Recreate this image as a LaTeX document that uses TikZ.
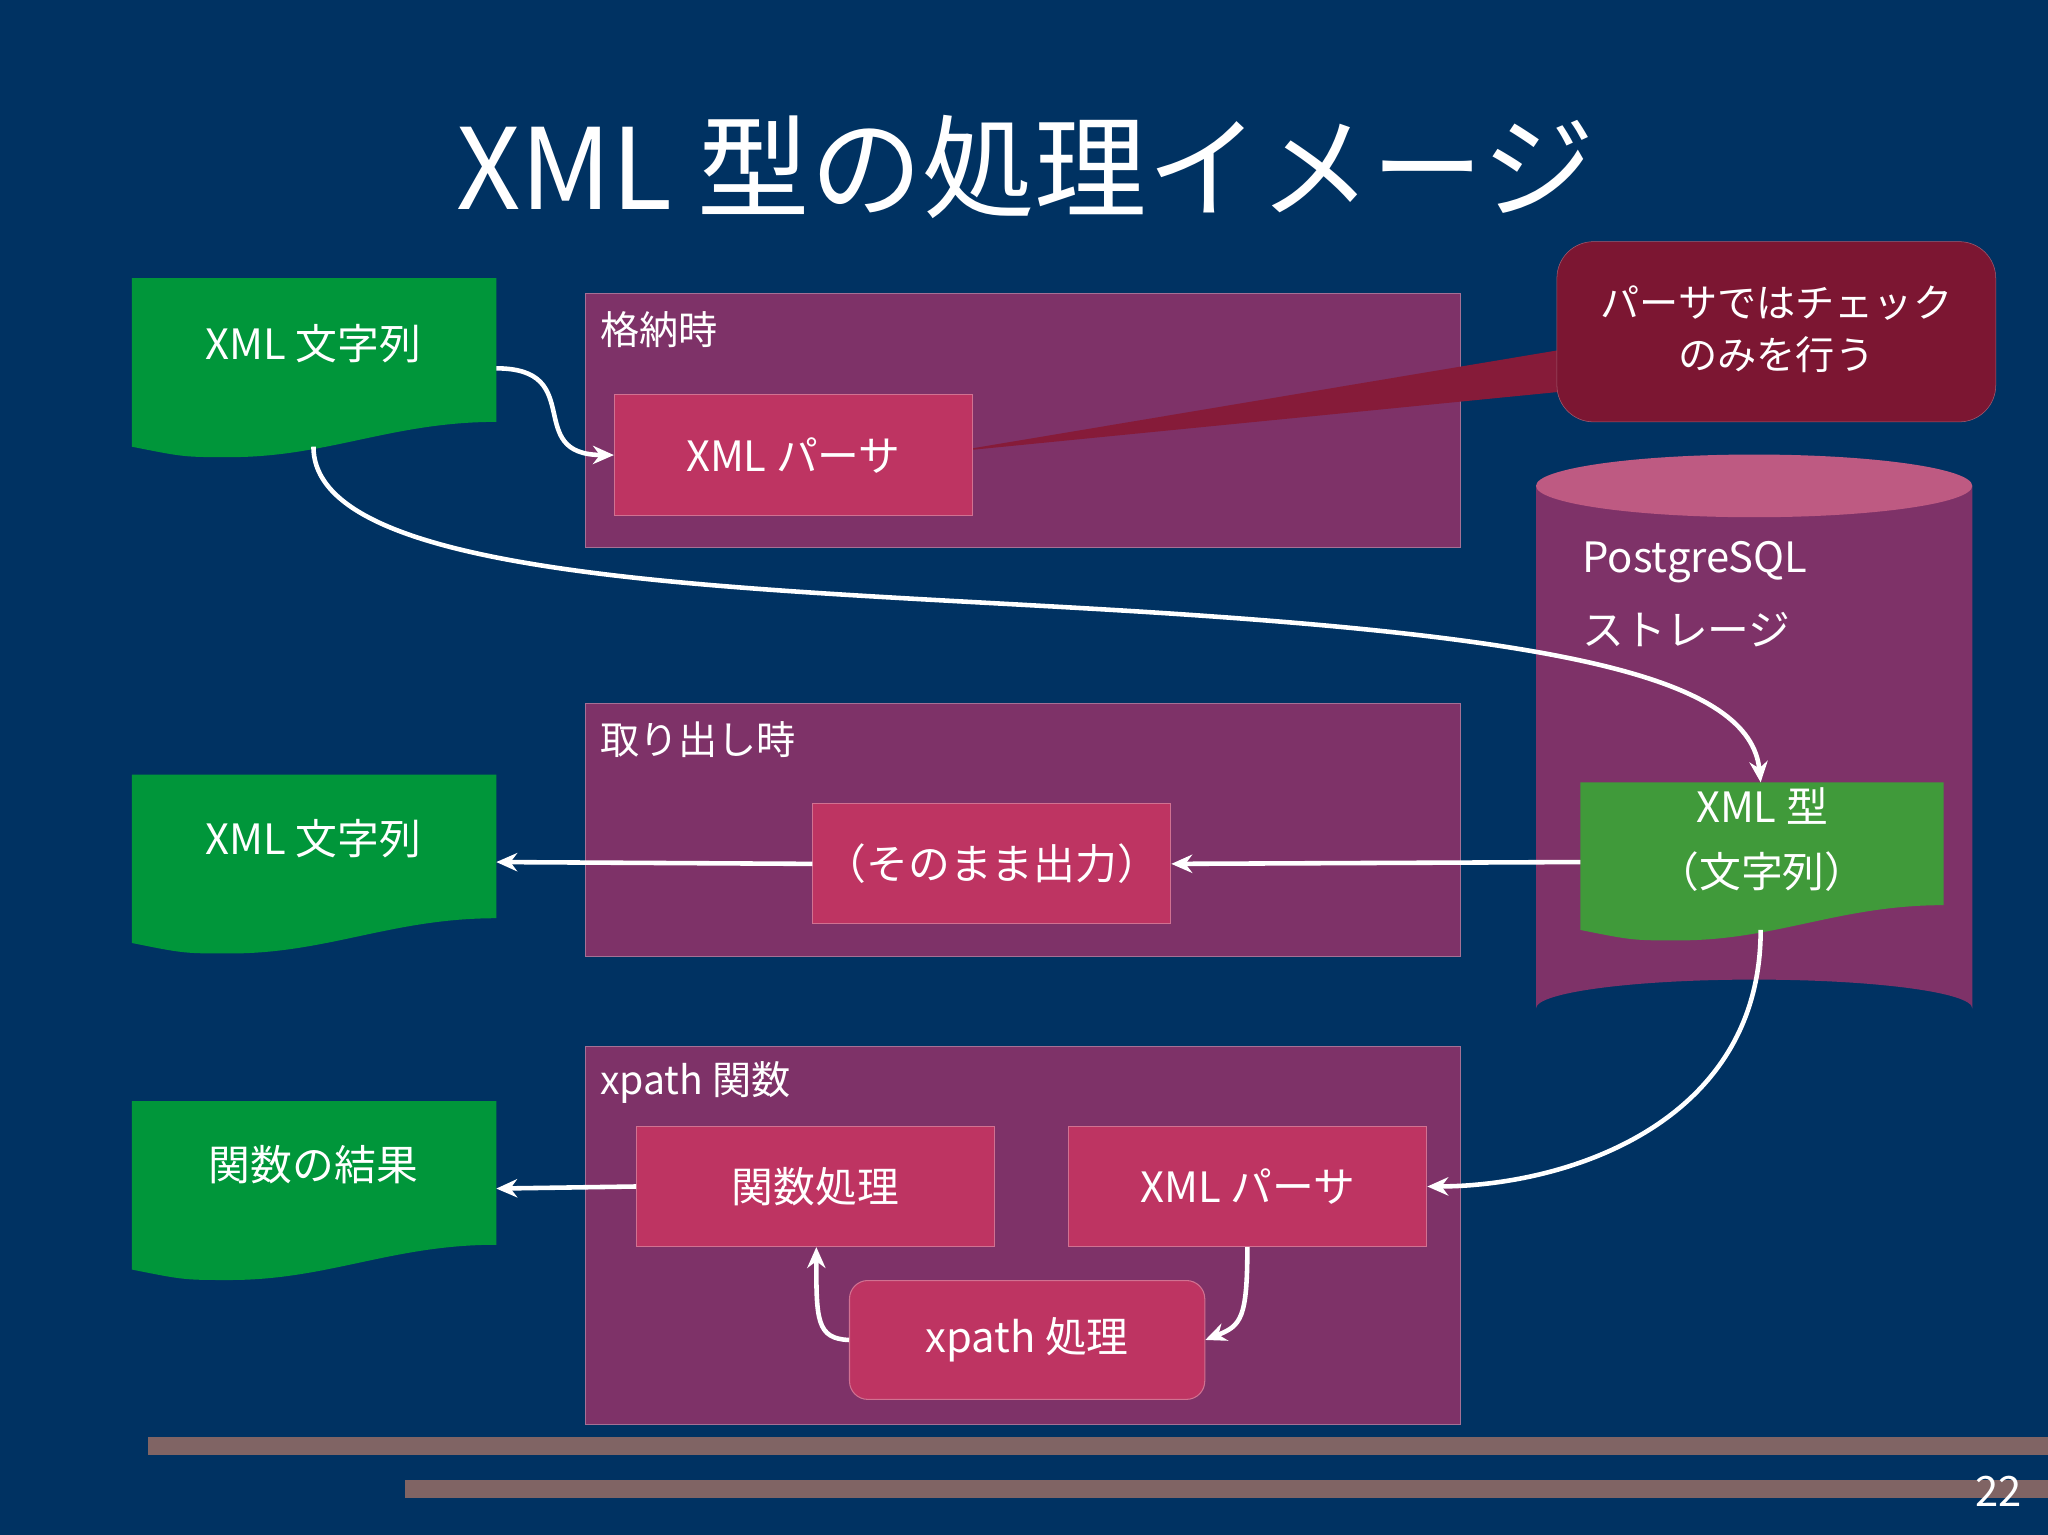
\documentclass[tikz,border=0pt]{standalone}
\usepackage{fontspec}
\setmainfont{Noto Sans CJK JP}
\usetikzlibrary{arrows.meta,positioning}
\definecolor{bg}{RGB}{0,50,98}
\definecolor{boxc}{RGB}{126,50,104}
\definecolor{pinkc}{RGB}{190,52,98}
\definecolor{greenc}{RGB}{0,150,58}
\definecolor{green2}{RGB}{64,154,58}
\definecolor{callc}{RGB}{124,22,50}
\definecolor{cyltop}{RGB}{190,90,130}
\definecolor{barc}{RGB}{128,100,100}
\newcommand\docshape[5]{%
  \fill[#5] (#1,#2) -- (#3,#2) -- (#3,#4-27) .. controls ({#3-80},#4-27) and ({#1+150},#4) .. ({#1+75},#4) .. controls ({#1+40},#4) .. (#1,#4-8) -- cycle;}
\begin{document}
\begin{tikzpicture}[x=1pt,y=-1pt,
  arr/.style={draw=white,line width=3.5pt,-{Stealth[length=16pt,width=14pt]}},
  box/.style={fill=boxc,draw=boxc!70!white,line width=0.6pt,anchor=north west,inner sep=0},
  pn/.style={fill=pinkc,draw=pinkc!70!white,line width=0.8pt,text=white,font=\fontsize{32}{36}\selectfont,inner sep=0,minimum width=274pt,minimum height=92pt},
  lab/.style={text=white,font=\fontsize{30}{34}\selectfont,anchor=west},
  dt/.style={text=white,font=\fontsize{32}{36}\selectfont}]
\useasboundingbox (0,0) rectangle (1568,1175);
\fill[bg] (0,0) rectangle (1568,1175);
\node[text=white,font=\fontsize{86}{96}\selectfont] (title) at (785,128) {XML 型の処理イメージ};
% boxes
\node[box,minimum width=670pt,minimum height=195pt] (b1) at (448,224) {};
\node[lab] (l1) at (456,252) {格納時};
\node[box,minimum width=670pt,minimum height=194pt] (b2) at (448,538) {};
\node[lab] (l2) at (456,566) {取り出し時};
\node[box,minimum width=670pt,minimum height=289pt] (b3) at (448,801) {};
\node[lab] (l3) at (456,829) {xpath 関数};
% cylinder
\fill[boxc] (1176,372) -- (1176,772) arc[start angle=180,end angle=360,x radius=167,y radius=22] -- (1510,372) -- cycle;
\fill[cyltop] (1343,372) ellipse[x radius=167,y radius=24];
\node[lab,font=\fontsize{32}{36}\selectfont] (pg1) at (1208,430) {PostgreSQL};
\node[lab,font=\fontsize{32}{36}\selectfont] (pg2) at (1208,482) {ストレージ};
% callout
\fill[callc!85!pinkc] (728,346) -- (1194,268) -- (1194,300) -- cycle;
\fill[callc,draw=callc!70!white,rounded corners=28pt] (1192,185) rectangle (1528,323);
\node[text=white,font=\fontsize{30}{40}\selectfont,align=center] (call) at (1360,252) {パーサではチェック\\のみを行う};
% docs
\docshape{101}{213}{380}{350}{greenc}
\node[dt] (d1t) at (240,263) {XML 文字列};
\coordinate (d1r) at (380,282); \coordinate (d1b) at (240,342);
\docshape{101}{593}{380}{730}{greenc}
\node[dt] (d2t) at (240,642) {XML 文字列};
\coordinate (d2r) at (380,660);
\docshape{101}{843}{380}{980}{greenc}
\node[dt] (d3t) at (240,892) {関数の結果};
\coordinate (d3r) at (380,910);
\docshape{1210}{599}{1488}{720}{green2}
\node[dt,align=center,font=\fontsize{32}{50}\selectfont] (xt) at (1349,643) {XML 型\\（文字列）};
\coordinate (xl) at (1210,660); \coordinate (xtop) at (1348,599); \coordinate (xb) at (1348,712);
% pink nodes
\node[pn,anchor=north west] (p1) at (470,302) {XML パーサ};
\node[pn,anchor=north west] (p2) at (622,615) {（そのまま出力）};
\node[pn,anchor=north west] (p3) at (487,862) {関数処理};
\node[pn,anchor=north west] (p4) at (818,862) {XML パーサ};
\node[pn,anchor=north west,rounded corners=14pt,minimum width=272pt,minimum height=91pt] (p5) at (650,980) {xpath 処理};
% arrows
\draw[arr] (d1r) .. controls (450,282) and (400,348) .. (p1.west);
\draw[arr] (d1b) .. controls (240,450) and (600,450) .. (900,470) .. controls (1200,490) and (1340,520) .. (xtop);
\draw[arr] (xl) -- (p2.east);
\draw[arr] (p2.west) -- (d2r);
\draw[arr] (xb) .. controls (1348,860) and (1200,908) .. (p4.east);
\draw[arr] (p3.west) -- (d3r);
\draw[arr] (p4.south -| 955,0) .. controls (955,1010) and (950,1015) .. (p5.east);
\draw[arr] (p5.west) .. controls (625,1025) and (625,1010) .. (p3.south -| 625,0);
% bars
\fill[barc] (113,1100) rectangle (1568,1114);
\fill[barc] (310,1133) rectangle (1568,1147);
\node[text=white,font=\fontsize{32}{36}\selectfont] (pg) at (1530,1142) {22};
\end{tikzpicture}
\end{document}
